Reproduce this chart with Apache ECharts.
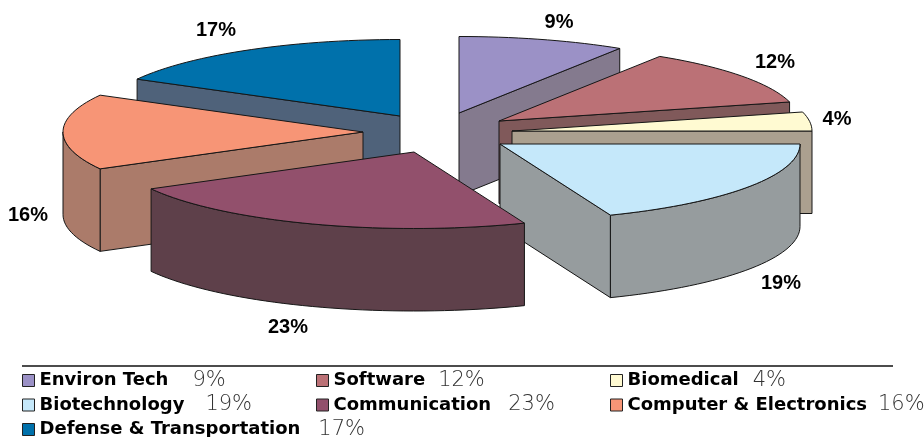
<!DOCTYPE html>
<html>
<head>
<meta charset="utf-8">
<style>
  html, body { margin: 0; padding: 0; background: #fff; }
  #chart { width: 924px; height: 437px; }
</style>
</head>
<body>
<div id="chart"></div>
<script src="https://cdn.jsdelivr.net/npm/echarts@6/dist/echarts.min.js"></script>
<script>
// data
const names = ["Environ Tech", "Software", "Biomedical", "Biotechnology", "Communication", "Computer & Electronics", "Defense & Transportation"];
const values = [9, 12, 4, 19, 23, 16, 17];

// styles
const topColors = ["#9b91c6", "#bb7176", "#fffad2", "#c5e8fa", "#92506c", "#f79576", "#0071ab"];
const sideColors = ["#847a8e", "#80595a", "#aba08f", "#969c9e", "#5e404a", "#ab7b6a", "#4f627a"];
// paint order, back to front
const zOrder = [1, 3, 4, 6, 7, 5, 2];
// where each exploded slice has its tip on the page
const tips = [[459, 113], [499, 121], [512, 131], [500, 144], [414, 152], [363, 132], [400, 116]];
const labelAt = [[559, 22], [775, 62], [837, 119], [781, 283], [288, 327], [28, 215], [216, 30]];
// space between legend name and its percent
const pctGap = [24, 13, 14, 21, 17, 11, 18];
const RX = 300;
const RY = 76.5;
const DEPTH = 82.5;
const LINE = "#161616";

const total = values.reduce((a, b) => a + b, 0);

function pt(i, deg, drop) {
  let r = (deg * Math.PI) / 180;
  return [tips[i][0] + RX * Math.sin(r), tips[i][1] - RY * Math.cos(r) + (drop || 0)];
}

function arc(i, from, to, drop) {
  let arr = [];
  let n = Math.max(2, Math.ceil(Math.abs(to - from) / 2));
  for (let k = 0; k <= n; k++) {
    arr.push(pt(i, from + ((to - from) * k) / n, drop));
  }
  return arr;
}

function poly(points, fill) {
  return {
    type: "polygon",
    shape: { points: points },
    style: { fill: fill, stroke: LINE, lineWidth: 1, lineJoin: "round" }
  };
}

function cutFace(i, deg) {
  let tip = tips[i];
  let p = pt(i, deg);
  return poly([tip, p, [p[0], p[1] + DEPTH], [tip[0], tip[1] + DEPTH]], sideColors[i]);
}

function sliceItem(i) {
  return function (params, api) {
    let before = values.slice(0, i).reduce((a, b) => a + b, 0);
    let start = (before / total) * 360;
    let end = start + (api.value(0) / total) * 360;
    let kids = [];

    // only the faces turned towards the viewer
    if (Math.sin((start * Math.PI) / 180) < -0.01) kids.push(cutFace(i, start));
    if (Math.sin((end * Math.PI) / 180) > 0.01) kids.push(cutFace(i, end));

    let rimFrom = Math.max(start, 90);
    let rimTo = Math.min(end, 270);
    if (rimTo > rimFrom) {
      let rim = arc(i, rimFrom, rimTo, 0).concat(arc(i, rimTo, rimFrom, DEPTH));
      kids.push(poly(rim, sideColors[i]));
    }

    kids.push(poly([tips[i]].concat(arc(i, start, end, 0)), topColors[i]));

    kids.push({
      type: "text",
      x: labelAt[i][0],
      y: labelAt[i][1],
      style: {
        text: api.value(0) + "%",
        fill: "#000",
        font: "bold 20px 'Liberation Sans', Arial, sans-serif",
        align: "center",
        verticalAlign: "middle"
      }
    });
    return { type: "group", children: kids };
  };
}

let series = names.map((name, i) => ({
  name: name,
  type: "custom",
  coordinateSystem: "none",
  z: zOrder[i],
  silent: true,
  itemStyle: { color: topColors[i] },
  renderItem: sliceItem(i),
  data: [[values[i]]]
}));

let legendRich = {
  n: { fontFamily: "DejaVu Sans", fontWeight: "bold", fontSize: 18, color: "#000", lineHeight: 14 }
};
names.forEach((name, i) => {
  legendRich["p" + i] = {
    fontFamily: "DejaVu Sans",
    fontWeight: 200,
    fontSize: 21,
    color: "#333",
    padding: [0, 0, 0, pctGap[i]],
    lineHeight: 14
  };
});

function legendCol(left, data) {
  return {
    orient: "vertical",
    left: left,
    top: 370,
    height: 100,
    data: data,
    icon: "rect",
    itemWidth: 12,
    itemHeight: 12,
    itemGap: 3.5,
    selectedMode: false,
    padding: 0,
    itemStyle: { borderColor: "#222", borderWidth: 1 },
    formatter: function (name) {
      let i = names.indexOf(name);
      return "{n|" + name + "}{p" + i + "|" + values[i] + "%}";
    },
    textStyle: { rich: legendRich }
  };
}

let myChart = echarts.init(document.getElementById("chart"));
myChart.setOption({
  animation: false,
  backgroundColor: "#fff",
  legend: [
    legendCol(22, [names[0], names[3], names[6]]),
    legendCol(316, [names[1], names[4]]),
    legendCol(610, [names[2], names[5]])
  ],
  graphic: [
    {
      type: "line",
      shape: { x1: 22, y1: 366, x2: 893, y2: 366 },
      style: { stroke: "#111", lineWidth: 1.5 }
    }
  ],
  series: series
});
</script>
</body>
</html>
